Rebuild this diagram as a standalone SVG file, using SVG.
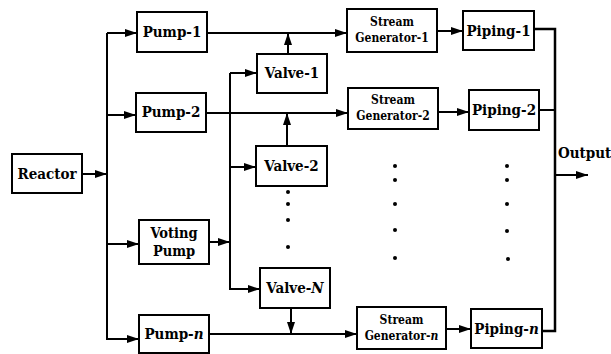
<svg xmlns="http://www.w3.org/2000/svg" width="611" height="354" viewBox="0 0 611 354">
<style>
.box{fill:#fff;stroke:#000;stroke-width:2}
.ln{fill:none;stroke:#000;stroke-width:2}
.t{font-family:"DejaVu Serif",serif;font-stretch:condensed;font-weight:bold;font-size:15px;text-anchor:middle;fill:#000}
.s{font-size:12px}
.v{font-size:14.5px}
.o{font-size:15px;text-anchor:start}
.i{font-style:italic}
</style>
<defs>
<marker id="ah" markerWidth="12" markerHeight="8" refX="12" refY="4" orient="auto" markerUnits="userSpaceOnUse">
<path d="M0,0 L12,4 L0,8 z" fill="#000"/>
</marker>
</defs>
<rect width="611" height="354" fill="#fff"/>
<g id="connectors">
<path class="ln" d="M82,174 H107" marker-end="url(#ah)"/>
<path class="ln" d="M107,33 V339 H139" marker-end="url(#ah)"/>
<path class="ln" d="M107,33 H137" marker-end="url(#ah)"/>
<path class="ln" d="M107,115 H136" marker-end="url(#ah)"/>
<path class="ln" d="M107,244 H139" marker-end="url(#ah)"/>
<path class="ln" d="M209,242 H230" marker-end="url(#ah)"/>
<path class="ln" d="M230,73 V289 H260" marker-end="url(#ah)"/>
<path class="ln" d="M230,73 H257" marker-end="url(#ah)"/>
<path class="ln" d="M230,167 H256" marker-end="url(#ah)"/>
<path class="ln" d="M207,33 H347" marker-end="url(#ah)"/>
<path class="ln" d="M206,113 H348" marker-end="url(#ah)"/>
<path class="ln" d="M209,334 H357" marker-end="url(#ah)"/>
<path class="ln" d="M288,54 V33" marker-end="url(#ah)"/>
<path class="ln" d="M287,146 V113" marker-end="url(#ah)"/>
<path class="ln" d="M291,308 V334" marker-end="url(#ah)"/>
<path class="ln" d="M437,31 H463" marker-end="url(#ah)"/>
<path class="ln" d="M438,112 H469" marker-end="url(#ah)"/>
<path class="ln" d="M446,329 H471" marker-end="url(#ah)"/>
<path class="ln" style="stroke-width:2.5" d="M534,29 H555 V331 H542"/>
<path class="ln" d="M539,110 H555"/>
<path class="ln" d="M555,175 H588" marker-end="url(#ah)"/>
</g>
<g id="reactor"><rect class="box" x="12" y="154" width="70" height="39"/><text class="t" x="47" y="179">Reactor</text></g>
<g id="pump-1"><rect class="box" x="137" y="12" width="70" height="40"/><text class="t" x="172" y="37">Pump-1</text></g>
<g id="pump-2"><rect class="box" x="136" y="93" width="70" height="39"/><text class="t" x="171" y="117">Pump-2</text></g>
<g id="voting-pump"><rect class="box" x="139" y="220" width="70" height="44"/><text class="t v" x="174" y="238">Voting</text><text class="t v" x="174" y="256">Pump</text></g>
<g id="pump-n"><rect class="box" x="139" y="315" width="70" height="38"/><text class="t" x="174" y="339">Pump-<tspan class="i">n</tspan></text></g>
<g id="valve-1"><rect class="box" x="257" y="54" width="70" height="39"/><text class="t" x="292" y="78">Valve-1</text></g>
<g id="valve-2"><rect class="box" x="256" y="146" width="71" height="40"/><text class="t" x="291.5" y="171">Valve-2</text></g>
<g id="valve-n"><rect class="box" x="260" y="268" width="70" height="40"/><text class="t" x="295" y="293">Valve-<tspan class="i">N</tspan></text></g>
<g id="stream-generator-1"><rect class="box" x="347" y="9" width="90" height="43"/><text class="t s" x="392" y="26">Stream</text><text class="t s" x="392" y="42">Generator-1</text></g>
<g id="stream-generator-2"><rect class="box" x="348" y="88" width="90" height="41"/><text class="t s" x="393" y="104">Stream</text><text class="t s" x="393" y="120">Generator-2</text></g>
<g id="stream-generator-n"><rect class="box" x="357" y="307" width="89" height="42"/><text class="t s" x="401.5" y="324">Stream</text><text class="t s" x="401.5" y="340">Generator-<tspan class="i">n</tspan></text></g>
<g id="piping-1"><rect class="box" x="463" y="11" width="71" height="39"/><text class="t" x="498.5" y="36">Piping-1</text></g>
<g id="piping-2"><rect class="box" x="469" y="90" width="70" height="40"/><text class="t" x="504" y="115">Piping-2</text></g>
<g id="piping-n"><rect class="box" x="471" y="309" width="71" height="39"/><text class="t" x="506.5" y="334">Piping-<tspan class="i">n</tspan></text></g>
<g id="output"><text class="t o" x="558" y="158">Output</text></g>
<g id="dots" fill="#000">
<circle cx="288" cy="192" r="2"/><circle cx="288" cy="204" r="2"/><circle cx="288" cy="220" r="2"/><circle cx="288" cy="247" r="2"/>
<circle cx="395" cy="166" r="2"/><circle cx="395" cy="180" r="2"/><circle cx="395" cy="204" r="2"/><circle cx="395" cy="230" r="2"/><circle cx="395" cy="258" r="2"/>
<circle cx="507" cy="166" r="2"/><circle cx="507" cy="180" r="2"/><circle cx="507" cy="204" r="2"/><circle cx="507" cy="231" r="2"/><circle cx="508" cy="259" r="2"/>
</g>
</svg>
